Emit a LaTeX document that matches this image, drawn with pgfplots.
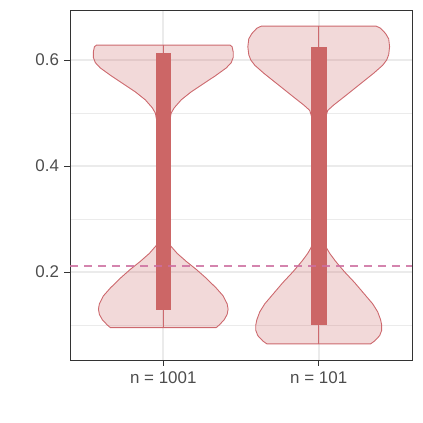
\documentclass[border=0pt]{standalone}
\usepackage{pgfplots}
\pgfplotsset{compat=1.18}
\usepackage{fontspec}
\setmainfont{Liberation Sans}
\definecolor{vcol}{RGB}{204,102,102}
\definecolor{vedge}{RGB}{205,105,110}
\definecolor{dcol}{RGB}{204,110,160}
\definecolor{gridc}{RGB}{235,235,235}
\definecolor{axc}{RGB}{51,51,51}
\definecolor{labc}{RGB}{77,77,77}
\begin{document}
\begin{tikzpicture}
\useasboundingbox (-70bp,-63bp) rectangle (353bp,360bp);
\begin{axis}[
  at={(0,0)}, anchor=south west,
  scale only axis, width=342bp, height=349bp,
  xmin=0.4, xmax=2.6, ymin=0.034, ymax=0.6925,
  xtick={1,2}, xticklabels={n = 1001, n = 101},
  ytick={0.2,0.4,0.6}, minor ytick={0.1,0.3,0.5},
  yticklabels={0.2,0.4,0.6},
  grid=both,
  major grid style={gridc, line width=1.8bp},
  minor grid style={gridc, line width=0.9bp},
  tick pos=left, tick align=outside,
  major tick length=5.5bp, minor tick length=0pt,
  every tick/.style={axc, line width=1bp},
  axis line style={axc, line width=1bp},
  ticklabel style={font=\fontsize{17}{20}\selectfont, text=labc},
  /pgf/number format/assume math mode=true,
  xticklabel style={yshift=-3bp},
  yticklabel style={xshift=-2bp},
]
% violin 1
\addplot[draw=vedge, line width=0.9bp, fill=vcol, fill opacity=0.25] coordinates {
(1.430,0.628)(1.443,0.625)(1.450,0.615)(1.450,0.605)(1.437,0.595)(1.405,0.585)(1.334,0.570)(1.257,0.555)(1.180,0.540)(1.116,0.525)(1.071,0.510)(1.051,0.500)(1.019,0.450)(1.013,0.350)(1.019,0.280)(1.045,0.250)(1.090,0.235)(1.148,0.220)(1.212,0.205)(1.270,0.190)(1.340,0.170)(1.385,0.155)(1.411,0.140)(1.417,0.130)(1.411,0.120)(1.392,0.110)(1.360,0.100)(1.340,0.095)
(0.660,0.095)(0.640,0.100)(0.608,0.110)(0.589,0.120)(0.583,0.130)(0.589,0.140)(0.615,0.155)(0.660,0.170)(0.730,0.190)(0.788,0.205)(0.852,0.220)(0.910,0.235)(0.955,0.250)(0.981,0.280)(0.987,0.350)(0.981,0.450)(0.949,0.500)(0.929,0.510)(0.884,0.525)(0.820,0.540)(0.743,0.555)(0.666,0.570)(0.595,0.585)(0.563,0.595)(0.550,0.605)(0.550,0.615)(0.557,0.625)(0.570,0.628)
} -- cycle;
% violin 2
\addplot[draw=vedge, line width=0.9bp, fill=vcol, fill opacity=0.25] coordinates {
(2.369,0.664)(2.398,0.660)(2.430,0.650)(2.450,0.640)(2.456,0.625)(2.450,0.610)(2.437,0.600)(2.411,0.590)(2.353,0.575)(2.289,0.560)(2.225,0.545)(2.161,0.530)(2.096,0.515)(2.058,0.505)(2.032,0.480)(2.019,0.350)(2.032,0.260)(2.051,0.245)(2.071,0.235)(2.109,0.220)(2.167,0.200)(2.231,0.180)(2.289,0.160)(2.347,0.140)(2.379,0.125)(2.398,0.110)(2.405,0.100)(2.405,0.090)(2.392,0.080)(2.360,0.070)(2.334,0.0645)
(1.666,0.0645)(1.640,0.070)(1.608,0.080)(1.595,0.090)(1.595,0.100)(1.602,0.110)(1.621,0.125)(1.653,0.140)(1.711,0.160)(1.769,0.180)(1.833,0.200)(1.891,0.220)(1.929,0.235)(1.949,0.245)(1.968,0.260)(1.981,0.350)(1.968,0.480)(1.942,0.505)(1.904,0.515)(1.839,0.530)(1.775,0.545)(1.711,0.560)(1.647,0.575)(1.589,0.590)(1.563,0.600)(1.550,0.610)(1.544,0.625)(1.550,0.640)(1.570,0.650)(1.602,0.660)(1.631,0.664)
} -- cycle;
% centre lines
\addplot[vedge, line width=0.9bp] coordinates {(1,0.095)(1,0.628)};
\addplot[vedge, line width=0.9bp] coordinates {(2,0.0645)(2,0.664)};
% bars
\addplot[draw=none, fill=vcol] coordinates {(0.95,0.128)(1.05,0.128)(1.05,0.614)(0.95,0.614)} -- cycle;
\addplot[draw=none, fill=vcol] coordinates {(1.95,0.100)(2.05,0.100)(2.05,0.625)(1.95,0.625)} -- cycle;
% dashed reference line
\addplot[dcol, line width=1.8bp, dash pattern=on 8bp off 6bp, opacity=0.85] coordinates {(0.4,0.2108)(2.6,0.2108)};
\end{axis}
\end{tikzpicture}
\end{document}
